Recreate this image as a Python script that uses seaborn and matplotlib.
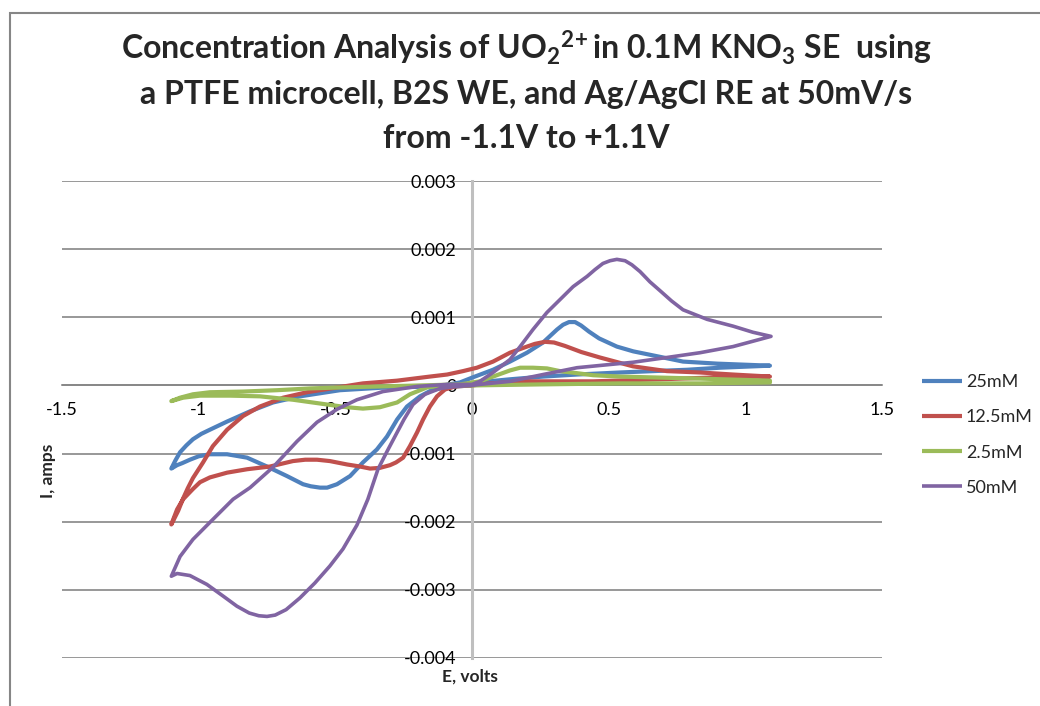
import numpy as np
import pandas as pd
import matplotlib
matplotlib.use("Agg")
import matplotlib.pyplot as plt
import seaborn as sns
from matplotlib.patches import Rectangle

# ---------------- data (E in volts, I in mA) ----------------
series_names = ["25mM", "12.5mM", "2.5mM", "50mM"]
series_colors = ["#4F81BD", "#C0504D", "#9BBB59", "#8064A2"]

e_25 = [0, -0.062, -0.143, -0.190, -0.238, -0.274, -0.311, -0.348, -0.399, -0.446, -0.494, -0.530,
        -0.556, -0.590, -0.618, -0.677, -0.750, -0.823, -0.896, -0.959, -1.000, -1.032, -1.060,
        -1.079, -1.10,
        -1.085, -1.068, -1.045, -1.021, -0.990, -0.959, -0.896, -0.812, -0.728, -0.629, -0.483,
        -0.337, -0.190, -0.117,
        -0.044, 0.004, 0.077, 0.139, 0.201, 0.260, 0.311, 0.333, 0.355, 0.377, 0.399, 0.428,
        0.465, 0.530, 0.590, 0.651, 0.772, 0.896, 1.09,
        0.907, 0.787, 0.662, 0.541, 0.384, 0.260, 0.139, 0.018, 0]
i_25 = [0, -0.015, -0.06, -0.16, -0.31, -0.50, -0.75, -0.94, -1.13, -1.33, -1.45, -1.50,
        -1.50, -1.48, -1.45, -1.33, -1.19, -1.06, -1.01, -1.01, -1.04, -1.09, -1.14,
        -1.17, -1.22,
        -1.10, -0.98, -0.88, -0.79, -0.71, -0.65, -0.53, -0.38, -0.25, -0.16, -0.07,
        -0.035, -0.02, -0.01,
        0.044, 0.12, 0.23, 0.35, 0.48, 0.63, 0.82, 0.89, 0.93, 0.93, 0.88, 0.79,
        0.69, 0.57, 0.50, 0.45, 0.35, 0.32, 0.29,
        0.26, 0.23, 0.21, 0.19, 0.16, 0.13, 0.09, 0.044, 0]

e_12 = [0, -0.062, -0.099, -0.128, -0.154, -0.179, -0.201, -0.227, -0.252, -0.278, -0.300,
        -0.337, -0.373, -0.410, -0.457, -0.520, -0.567, -0.610, -0.655, -0.739, -0.823, -0.896,
        -0.959, -0.995, -1.021, -1.057, -1.079, -1.10,
        -1.075, -1.057, -1.040, -1.021, -0.984, -0.948, -0.896, -0.838, -0.776, -0.691, -0.604,
        -0.509, -0.399, -0.274, -0.154, -0.091, -0.033, 0.018, 0.077, 0.139, 0.201, 0.230,
        0.267, 0.300, 0.340, 0.400, 0.468, 0.589, 0.713, 0.834, 0.955, 1.09,
        0.907, 0.688, 0.443, 0.201, 0.066, 0]
i_12 = [0, -0.015, -0.06, -0.16, -0.31, -0.50, -0.69, -0.89, -1.06, -1.13, -1.17,
        -1.21, -1.22, -1.19, -1.16, -1.11, -1.09, -1.09, -1.11, -1.19, -1.23, -1.28,
        -1.35, -1.42, -1.52, -1.67, -1.82, -2.04,
        -1.84, -1.66, -1.51, -1.36, -1.13, -0.89, -0.65, -0.45, -0.31, -0.18, -0.10,
        -0.04, 0.03, 0.07, 0.13, 0.16, 0.21, 0.26, 0.35, 0.48, 0.57, 0.61,
        0.64, 0.63, 0.58, 0.49, 0.41, 0.28, 0.21, 0.19, 0.16, 0.13,
        0.12, 0.09, 0.06, 0.06, 0.03, 0]

e_2_5 = [0, -0.106, -0.165, -0.227, -0.274, -0.337, -0.399, -0.457, -0.530, -0.655, -0.776,
         -0.885, -0.995, -1.057, -1.10,
         -1.068, -1.021, -0.959, -0.838, -0.713, -0.593, -0.483, -0.337, -0.190, -0.044,
         0.029, 0.077, 0.139, 0.176, 0.223, 0.274, 0.322, 0.384, 0.443, 0.541, 0.834, 1.09,
         1.09, 0.834, 0.541, 0.249, 0]
i_2_5 = [0, 0, -0.03, -0.13, -0.25, -0.32, -0.34, -0.32, -0.28, -0.21, -0.16,
         -0.15, -0.15, -0.18, -0.23,
         -0.18, -0.13, -0.10, -0.09, -0.07, -0.044, -0.03, -0.015, 0, 0.015,
         0.06, 0.13, 0.22, 0.26, 0.26, 0.25, 0.21, 0.18, 0.15, 0.13, 0.10, 0.07,
         0.044, 0.03, 0.03, 0.015, 0]

e_50 = [0, -0.062, -0.117, -0.172, -0.216, -0.249, -0.282, -0.311, -0.344, -0.381, -0.421,
        -0.472, -0.520, -0.575, -0.630, -0.680, -0.720, -0.750, -0.780, -0.815, -0.860, -0.911,
        -0.970, -1.032, -1.079, -1.10,
        -1.068, -1.021, -0.959, -0.874, -0.812, -0.728, -0.640, -0.567, -0.494, -0.421,
        -0.326, -0.201, -0.091, 0, 0.029, 0.077, 0.139, 0.176, 0.223, 0.274, 0.322, 0.370,
        0.421, 0.450, 0.479, 0.505, 0.530, 0.560, 0.585, 0.615, 0.651, 0.688, 0.730, 0.772,
        0.860, 0.955, 1.028, 1.094,
        0.955, 0.834, 0.713, 0.589, 0.384, 0.260, 0.139, 0.029, 0]
i_50 = [0, -0.015, -0.045, -0.13, -0.28, -0.50, -0.75, -0.97, -1.23, -1.67, -2.05,
        -2.40, -2.65, -2.90, -3.12, -3.29, -3.37, -3.39, -3.38, -3.34, -3.24, -3.09,
        -2.92, -2.79, -2.76, -2.80,
        -2.51, -2.26, -2.01, -1.67, -1.50, -1.20, -0.82, -0.54, -0.35, -0.21,
        -0.09, -0.015, 0.015, 0.015, 0.06, 0.19, 0.38, 0.57, 0.82, 1.07, 1.26, 1.45,
        1.60, 1.70, 1.79, 1.83, 1.85, 1.83, 1.77, 1.67, 1.52, 1.39, 1.24, 1.11,
        0.97, 0.87, 0.78, 0.72,
        0.57, 0.48, 0.41, 0.34, 0.26, 0.16, 0.06, 0.015, 0]

x_ticks = [-1.5, -1, -0.5, 0, 0.5, 1, 1.5]
y_ticks = [-0.004, -0.003, -0.002, -0.001, 0, 0.001, 0.002, 0.003]
x_tick_labels = ["-1.5", "-1", "-0.5", "0", "0.5", "1", "1.5"]
y_tick_labels = ["-0.004", "-0.003", "-0.002", "-0.001", "0", "0.001", "0.002", "0.003"]

title_lines = [r"Concentration Analysis of UO$_2$$^{2\!+}$in 0.1M KNO$_3$ SE  using",
               "a PTFE microcell, B2S WE, and Ag/AgCl RE at 50mV/s",
               "from -1.1V to +1.1V"]
x_label = "E, volts"
y_label = "I, amps"

# ---------------- frame ----------------
frames = []
for name, e, i in [("25mM", e_25, i_25), ("12.5mM", e_12, i_12),
                   ("2.5mM", e_2_5, i_2_5), ("50mM", e_50, i_50)]:
    frames.append(pd.DataFrame({"E": e, "I": np.array(i) / 1000.0, "series": name,
                                "order": np.arange(len(e))}))
df = pd.concat(frames, ignore_index=True)

sns.set_style("white")
plt.rcParams["font.family"] = ["Lato", "DejaVu Sans"]
plt.rcParams["axes.unicode_minus"] = False
plt.rcParams["mathtext.default"] = "regular"

W, H = 1040, 706
fig = plt.figure(figsize=(W / 100, H / 100), dpi=100)
ax = fig.add_axes([62 / W, 1 - 658 / H, (882 - 62) / W, (658 - 181) / H])

widths = {"25mM": 3.0, "12.5mM": 3.0, "2.5mM": 3.0, "50mM": 2.6}
for name, col in zip(series_names, series_colors):
    sub = df[df["series"] == name]
    sns.lineplot(data=sub, x="E", y="I", sort=False, estimator=None, color=col,
                 lw=widths[name], ax=ax, label=name, zorder=3,
                 solid_joinstyle="round", solid_capstyle="round")

ax.set_xlim(-1.5, 1.5)
ax.set_ylim(-0.004, 0.003)
ax.set_xticks(x_ticks)
ax.set_xticklabels(x_tick_labels)
ax.set_yticks(y_ticks)
ax.set_yticklabels(y_tick_labels)
ax.set_xlabel("")
ax.set_ylabel("")

grid_col = "#868686"
ax.yaxis.grid(True, color=grid_col, lw=1.2, zorder=0)
ax.xaxis.grid(False)
for s in ["top", "right"]:
    ax.spines[s].set_visible(False)
ax.spines["left"].set_position(("data", 0))
ax.spines["left"].set_color("#BFBFBF")
ax.spines["left"].set_linewidth(2.2)
ax.spines["bottom"].set_position(("data", 0))
ax.spines["bottom"].set_color(grid_col)
ax.spines["bottom"].set_linewidth(1.2)
ax.tick_params(axis="both", length=0, labelsize=13, labelcolor="black")
ax.tick_params(axis="y", pad=11)
ax.tick_params(axis="x", pad=12)
ax.set_axisbelow(True)

# legend
handles, labels = ax.get_legend_handles_labels()
for h in handles:
    h.set_solid_capstyle("butt")
ax.legend(handles, labels, loc="upper left", bbox_to_anchor=(915 / W, 1 - 367 / H),
          bbox_transform=fig.transFigure, frameon=False, fontsize=13,
          handlelength=2.2, handletextpad=0.22, labelspacing=1.06, borderaxespad=0)

# titles and labels
for line, yb in zip(title_lines, [60, 104, 148]):
    fig.text(526 / W, 1 - yb / H, line, ha="center", va="baseline", fontsize=23,
             fontweight="bold", family=["Lato", "DejaVu Sans"])
fig.text(470 / W, 1 - 677 / H, x_label, ha="center", va="center", fontsize=12.5,
         fontweight="bold")
fig.text(48 / W, 1 - 471 / H, y_label, ha="center", va="center", rotation=90, fontsize=12.5,
         fontweight="bold")

# chart border
fig.add_artist(Rectangle((10 / W, -0.2), 1.2, 1 - 13 / H + 0.2, transform=fig.transFigure,
                         fill=False, edgecolor="#868686", lw=1.5))

fig.savefig("out.png", dpi=100)
